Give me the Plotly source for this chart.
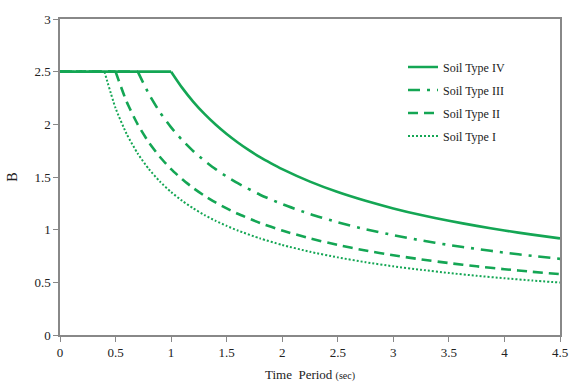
import plotly.graph_objects as go

# Soil Type IV
t4 = [0.0, 1.0, 1.1, 1.2, 1.3, 1.4, 1.5, 1.6, 1.7, 1.8, 1.9, 2.0, 2.25, 2.5, 2.75, 3.0, 3.25, 3.5, 3.75, 4.0, 4.25, 4.5]
b4 = [2.5, 2.5, 2.346, 2.214, 2.099, 1.998, 1.908, 1.828, 1.755, 1.689, 1.630, 1.575, 1.456, 1.357, 1.274, 1.202, 1.139, 1.084, 1.036, 0.992, 0.953, 0.917]
# Soil Type III
t3 = [0.0, 0.7, 0.8, 0.9, 1.0, 1.1, 1.2, 1.3, 1.4, 1.5, 1.6, 1.8, 2.0, 2.25, 2.5, 2.75, 3.0, 3.25, 3.5, 3.75, 4.0, 4.25, 4.5]
b3 = [2.5, 2.5, 2.287, 2.114, 1.971, 1.850, 1.745, 1.655, 1.575, 1.504, 1.441, 1.332, 1.242, 1.148, 1.070, 1.004, 0.948, 0.898, 0.855, 0.817, 0.782, 0.751, 0.723]
# Soil Type II
t2 = [0.0, 0.5, 0.6, 0.7, 0.8, 0.9, 1.0, 1.1, 1.2, 1.3, 1.4, 1.5, 1.6, 1.8, 2.0, 2.25, 2.5, 2.75, 3.0, 3.25, 3.5, 3.75, 4.0, 4.25, 4.5]
b2 = [2.5, 2.5, 2.214, 1.998, 1.828, 1.690, 1.575, 1.478, 1.395, 1.322, 1.258, 1.202, 1.151, 1.064, 0.992, 0.917, 0.855, 0.802, 0.757, 0.718, 0.683, 0.652, 0.625, 0.600, 0.578]
# Soil Type I
t1 = [0.0, 0.4, 0.5, 0.6, 0.7, 0.8, 0.9, 1.0, 1.1, 1.2, 1.3, 1.4, 1.5, 1.6, 1.8, 2.0, 2.25, 2.5, 2.75, 3.0, 3.25, 3.5, 3.75, 4.0, 4.25, 4.5]
b1 = [2.5, 2.5, 2.154, 1.908, 1.722, 1.575, 1.456, 1.357, 1.274, 1.202, 1.139, 1.084, 1.036, 0.992, 0.917, 0.855, 0.790, 0.737, 0.691, 0.652, 0.619, 0.589, 0.562, 0.539, 0.517, 0.498]

x_ticks = [0, 0.5, 1, 1.5, 2, 2.5, 3, 3.5, 4, 4.5]
x_labels = ["0", "0.5", "1", "1.5", "2", "2.5", "3", "3.5", "4", "4.5"]
y_ticks = [0, 0.5, 1, 1.5, 2, 2.5, 3]
y_labels = ["0", "0.5", "1", "1.5", "2", "2.5", "3"]

GREEN = "#14A654"
FONT = "'Liberation Serif', 'Times New Roman', Times, serif"

fig = go.Figure()
series = [
    ("Soil Type IV", t4, b4, "solid", 2.6),
    ("Soil Type III", t3, b3, "12px,7px,3px,7px", 2.6),
    ("Soil Type II", t2, b2, "10px,6px", 2.6),
    ("Soil Type I", t1, b1, "2px,2px", 2.0),
]
for name, t, b, dash, w in series:
    fig.add_trace(go.Scatter(
        x=t[:2], y=b[:2], mode="lines", name=name, legendgroup=name, showlegend=False,
        line=dict(color=GREEN, width=w, dash=dash, shape="linear"),
    ))
    fig.add_trace(go.Scatter(
        x=t[1:], y=b[1:], mode="lines", name=name, legendgroup=name,
        line=dict(color=GREEN, width=w, dash=dash, shape="spline", smoothing=0.6),
    ))

axis_common = dict(
    showgrid=False, zeroline=False, showline=True, linecolor="#888888", linewidth=1.5,
    mirror=True, ticks="outside", ticklen=5, tickcolor="#888888", tickwidth=1,
    tickfont=dict(family=FONT, size=13, color="#222"), automargin=False,
)
fig.update_xaxes(range=[0, 4.5], tickvals=x_ticks, ticktext=x_labels,
                 title=dict(text="Time  Period <span style='font-size:10px'>(sec)</span>",
                            font=dict(family=FONT, size=13, color="#222"), standoff=14),
                 **axis_common)
fig.update_yaxes(range=[0, 3], tickvals=y_ticks, ticktext=y_labels,
                 title=dict(text="B", font=dict(family=FONT, size=14, color="#222"), standoff=14),
                 **axis_common)

fig.update_layout(
    width=569, height=382,
    margin=dict(l=60, r=9, t=19, b=47),
    paper_bgcolor="white", plot_bgcolor="white",
    showlegend=True,
    legend=dict(x=0.686, y=0.894, xanchor="left", yanchor="top",
                bgcolor="rgba(0,0,0,0)", font=dict(family=FONT, size=12, color="#222"),
                tracegroupgap=4, itemwidth=30),
)

fig.write_html("out.html")
